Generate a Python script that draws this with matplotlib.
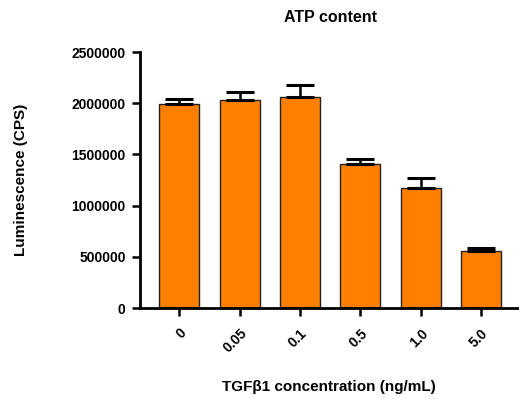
import matplotlib
matplotlib.use("Agg")
import matplotlib.pyplot as plt
import numpy as np

categories = ["0", "0.05", "0.1", "0.5", "1.0", "5.0"]
values = [1997000, 2032000, 2062000, 1409000, 1170000, 552000]
errors = [40000, 73000, 114000, 49000, 98000, 33000]
yticks = [0, 500000, 1000000, 1500000, 2000000, 2500000]

plt.rcParams['font.family'] = ['Liberation Sans', 'DejaVu Sans']
plt.rcParams['font.weight'] = 'bold'

W, H = 519, 399
fig = plt.figure(figsize=(W/100, H/100), dpi=100)
ax = fig.add_axes([139.5/W, 1-308/H, 1-139.5/W, (308-52)/H])

x = np.arange(len(categories))
ax.bar(x, values, width=0.66, color='#FF8000', edgecolor='#222222', linewidth=1.0, zorder=2)
ax.errorbar(x, values, yerr=[np.zeros(len(errors)), errors], fmt='none', ecolor='black',
            elinewidth=1.8, capsize=10, capthick=2.2, zorder=3)

ax.set_xlim(-0.66, 5.63)
ax.set_ylim(0, 2500000)
ax.set_yticks(yticks)
ax.set_yticklabels([str(v) for v in yticks], fontsize=10, fontweight='bold')
ax.set_xticks(x)
ax.set_xticklabels(categories, rotation=45, ha='right', rotation_mode='anchor', fontsize=10, fontweight='bold')
ax.tick_params(axis='both', direction='out', length=6, width=1.8, color='black')
ax.tick_params(axis='y', pad=4)
ax.tick_params(axis='x', pad=7)

for s in ['top', 'right']:
    ax.spines[s].set_visible(False)
for s in ['left', 'bottom']:
    ax.spines[s].set_linewidth(2)

fig.text(330/W, 1-18/H, "ATP content", fontsize=11.5, fontweight='bold', ha='center', va='center')
ax.set_ylabel("Luminescence (CPS)", fontsize=11, fontweight='bold')
ax.yaxis.set_label_coords((28-139.5)/379.5, 0.5)
ax.set_xlabel("TGFβ1 concentration (ng/mL)", fontsize=11, fontweight='bold')
ax.xaxis.set_label_coords((329-139.5)/379.5, (308-380)/256)

fig.savefig("out.png", dpi=100)
